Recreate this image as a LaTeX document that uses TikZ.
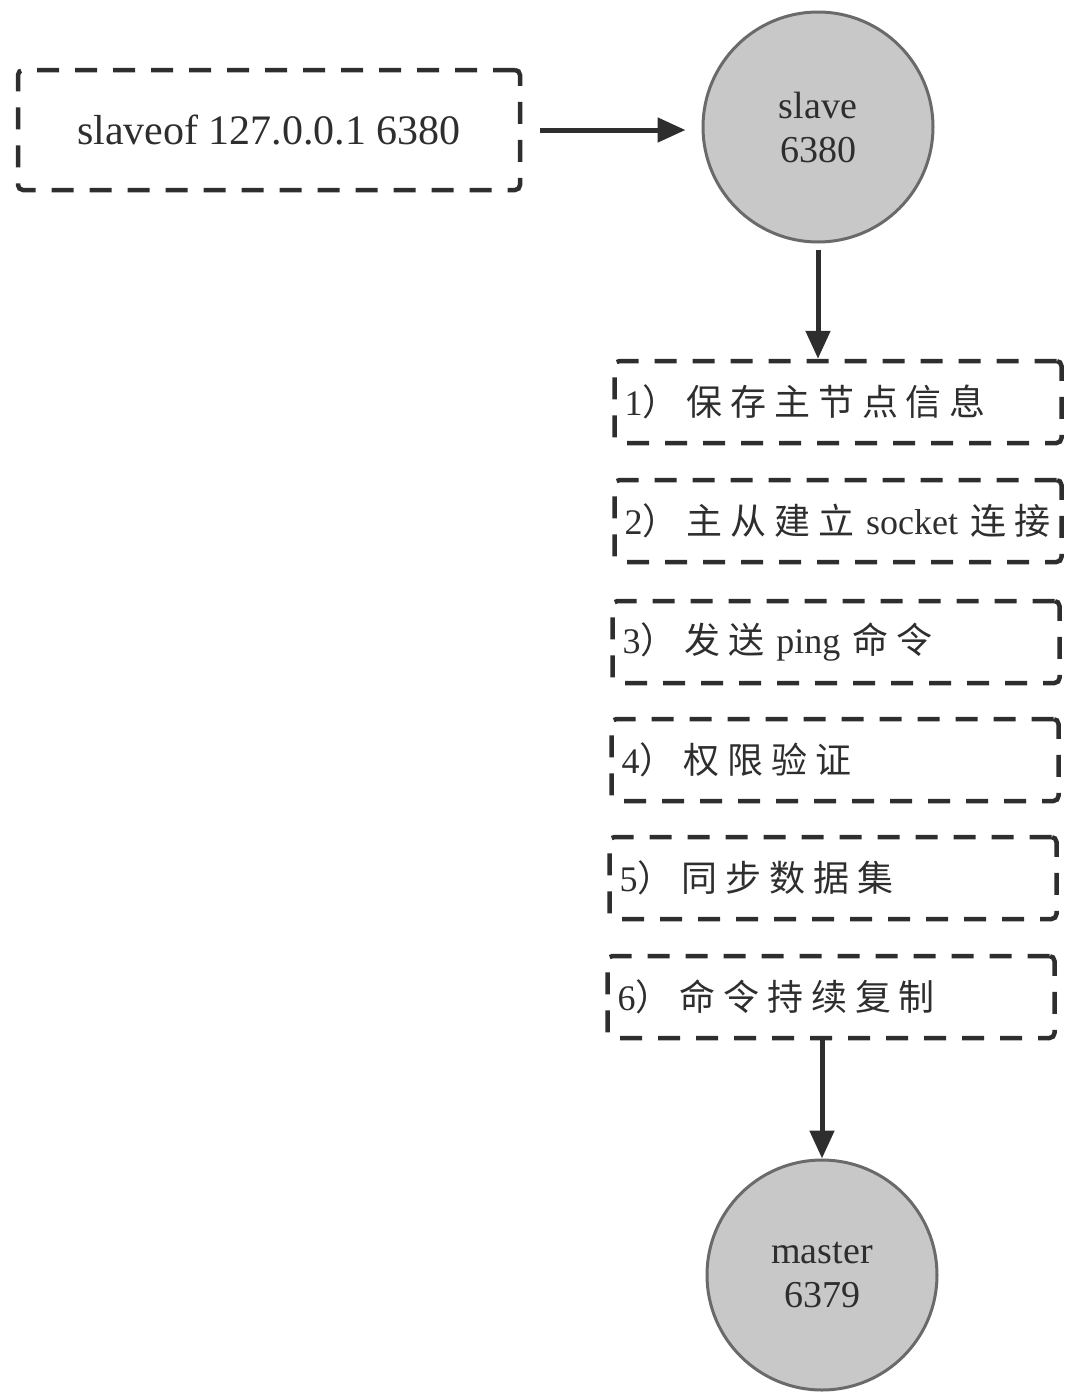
\documentclass[tikz,border=0pt]{standalone}
\usepackage{fontspec}
\setmainfont{Liberation Serif}
\newfontfamily\cjk{Noto Sans CJK SC}[LetterSpace=22]
\usetikzlibrary{arrows.meta}
\definecolor{ink}{HTML}{2E2E2E}
\definecolor{discfill}{HTML}{C8C8C8}
\definecolor{discline}{HTML}{6A6A6A}
\begin{document}
\begin{tikzpicture}[x=1pt,y=-1pt,
  dbox/.style={draw=ink, line width=4.5pt, dash pattern=on 22pt off 16pt, rounded corners=5pt, inner sep=0pt},
  stepbox/.style={dbox, minimum width=447pt, minimum height=82pt, text width=427pt, align=left, text=ink, font=\fontsize{36}{40}\selectfont},
  srv/.style={circle, draw=discline, line width=3pt, fill=discfill, minimum size=230pt, inner sep=0pt, align=center, text=ink, font=\fontsize{38}{44}\selectfont},
  arr/.style={-{Triangle[length=28pt,width=24pt]}, line width=5pt, draw=ink}]
\useasboundingbox (0,0) rectangle (1077,1398);
\node[dbox, minimum width=502pt, minimum height=120pt, text=ink, font=\fontsize{42}{46}\selectfont] (cmd) at (269,130) {slaveof 127.0.0.1 6380};
\node[srv] (slave) at (818,127) {slave\\6380};
\node[stepbox] (s1) at (838,402) {\mbox{1{\cjk ）保存主节点信息}}};
\node[stepbox] (s2) at (838,521) {\mbox{2{\cjk ）主从建立}\ socket{\cjk\ 连接}}};
\node[stepbox] (s3) at (836,642) {\mbox{3{\cjk ）发送}\ ping {\cjk 命令}}};
\node[stepbox] (s4) at (835,760) {\mbox{4{\cjk ）权限验证}}};
\node[stepbox] (s5) at (833,878) {\mbox{5{\cjk ）同步数据集}}};
\node[stepbox] (s6) at (831,997) {\mbox{6{\cjk ）命令持续复制}}};
\node[srv] (master) at (822,1275) {master\\6379};
\draw[arr] ([xshift=18pt]cmd.east) -- ([xshift=-16pt]cmd.east -| slave.west);
\draw[arr] ([yshift=-6pt]slave.south) -- (slave.south |- s1.north);
\draw[arr] (master.north |- s6.south) -- (master.north);
\end{tikzpicture}
\end{document}
